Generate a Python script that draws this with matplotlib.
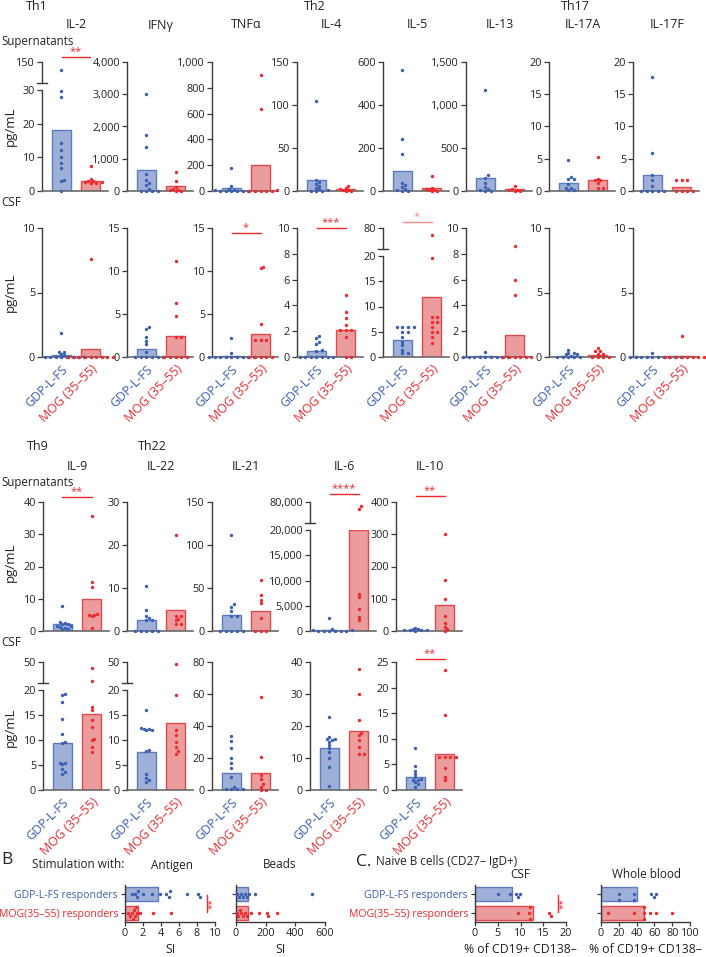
import matplotlib
matplotlib.use("Agg")
import matplotlib.pyplot as plt
from matplotlib.lines import Line2D
from matplotlib.ticker import FuncFormatter

plt.rcParams['font.family'] = ['Open Sans', 'DejaVu Sans']

W, H = 706, 957
fig = plt.figure(figsize=(W / 100, H / 100), dpi=100)

BFACE, BEDGE, BDOT = '#9eb0d8', '#5b7cc0', '#3a5fb3'
RFACE, REDGE, RDOT = '#eb9c9d', '#e5484b', '#ee2a2e'
AXC = '#3a3a3a'
groups = ['GDP-L-FS', 'MOG (35–55)']

# ---- data: top block (Th1 / Th2 / Th17) ----
top_names = ['IL-2', 'IFNγ', 'TNFα', 'IL-4', 'IL-5', 'IL-13', 'IL-17A', 'IL-17F']

il2_sup_b = [102, 29.8, 27.8, 14.3, 12.3, 10.1, 8.4, 6.7, 3.4, 3.0, 0]
il2_sup_r = [7.4, 3.6, 3.0, 2.7, 2.5, 2.4, 2.6, 2.9]
ifng_sup_b = [3018, 1726, 1364, 517, 351, 248, 176, 72, 0, 0, 0, 0]
ifng_sup_r = [589, 310, 124, 72, 41, 20, 0, 0]
tnfa_sup_b = [181, 36, 18, 10, 5, 2, 0, 0, 0, 0, 0]
tnfa_sup_r = [902, 633, 5, 2, 0, 0, 0, 0]
il4_sup_b = [105, 12.4, 10.5, 8.5, 5.8, 3.5, 2, 0.8, 0.5, 0, 0]
il4_sup_r = [5.4, 3.9, 1.9, 1.5, 1, 0.5, 0]
il5_sup_b = [561, 243, 174, 39, 26, 19, 11, 3, 0, 0]
il5_sup_r = [68, 16, 11, 6, 4, 2, 0]
il13_sup_b = [1178, 182, 155, 93, 47, 19, 8, 0, 0]
il13_sup_r = [54, 27, 16, 8, 4, 0]
il17a_sup_b = [4.86, 2.17, 1.8, 1.8, 1.14, 0.47, 0.47, 0.2, 0.2]
il17a_sup_r = [5.2, 1.8, 1.65, 1.65, 1.24, 0.52, 0.52]
il17f_sup_b = [17.6, 5.9, 2.43, 1.76, 0.78, 0, 0, 0, 0, 0]
il17f_sup_r = [1.65, 1.65, 1.65, 0, 0, 0, 0]
top_sup_bar_b = [18.1, 641, 23, 12.4, 91, 151, 1.24, 2.43]
top_sup_bar_r = [2.9, 155, 199, 2.7, 16, 23, 1.76, 0.62]

il2_csf_b = [1.87, 0.39, 0.35, 0.26, 0.13, 0, 0, 0, 0, 0, 0, 0, 0]
il2_csf_r = [7.6, 0, 0, 0, 0, 0, 0, 0, 0, 0]
ifng_csf_b = [3.5, 3.3, 2.3, 1.9, 1.5, 0.6, 0, 0, 0, 0, 0, 0]
ifng_csf_r = [11.2, 6.3, 4.8, 2.3, 2.3, 0, 0, 0, 0, 0]
tnfa_csf_b = [2.2, 0.47, 0, 0, 0, 0, 0, 0, 0, 0, 0]
tnfa_csf_r = [10.5, 10.3, 3.8, 1.95, 1.95, 1.95, 0, 0, 0, 0, 0]
il4_csf_b = [1.64, 1.5, 1.17, 0.99, 0.52, 0.5, 0, 0, 0, 0, 0, 0, 0]
il4_csf_r = [4.8, 3.45, 3.0, 2.47, 2.13, 2.13, 2.13, 1.56, 0, 0]
il5_csf_b = [6.0, 6.0, 6.0, 5.9, 5.0, 5.0, 4.0, 3.0, 2.3, 1.3, 0.7, 0.7]
il5_csf_r = [61, 19.7, 8, 8, 7, 7, 5.9, 5, 5, 4, 2.8]
il13_csf_b = [0.39, 0, 0, 0, 0, 0, 0, 0, 0, 0]
il13_csf_r = [8.57, 5.97, 4.8, 0, 0, 0, 0, 0, 0]
il17a_csf_b = [0.57, 0.34, 0.34, 0.2, 0.2, 0.1, 0, 0, 0, 0, 0]
il17a_csf_r = [0.73, 0.44, 0.44, 0.26, 0.26, 0, 0, 0, 0]
il17f_csf_b = [0.34, 0, 0, 0, 0, 0, 0, 0, 0, 0, 0]
il17f_csf_r = [1.64, 0, 0, 0, 0, 0, 0, 0, 0]
top_csf_bar_b = [0.18, 0.97, 0.15, 0.44, 3.3, 0.05, 0.08, 0.03]
top_csf_bar_r = [0.65, 2.4, 2.7, 2.13, 11.8, 1.74, 0.18, 0.05]

# ---- data: bottom block (Th9 / Th22 / others) ----
bot_names = ['IL-9', 'IL-22', 'IL-21', 'IL-6', 'IL-10']
il9_sup_b = [7.75, 2.8, 2.5, 2.1, 2.1, 1.45, 1.45, 1.2, 1.0, 0.7, 0.7]
il9_sup_r = [35.7, 15.2, 13.6, 5.4, 5.0, 4.9, 4.6, 1.0]
il22_sup_b = [10.5, 4.8, 3.4, 3.0, 2.5, 2.5, 0, 0, 0, 0, 0]
il22_sup_r = [22.4, 3.6, 3.6, 2.9, 2.5, 1.7, 1.7]
il21_sup_b = [112, 31, 28, 23, 18, 18, 0, 0, 0, 0, 0]
il21_sup_r = [59, 41.5, 36.4, 32.6, 15.5, 0, 0, 0]
il6_sup_b = [2650, 330, 130, 100, 0, 0, 0, 0, 0, 0]
il6_sup_r = [68000, 60000, 7400, 6750, 4440, 2780, 2120]
il10_sup_b = [10, 7, 7, 4, 4, 2, 2, 1]
il10_sup_r = [300, 159, 99, 45, 25, 12, 7, 0]
bot_sup_bar_b = [2.07, 2.5, 19, 200, 2]
bot_sup_bar_r = [10.0, 4.96, 22.9, 20000, 81]

il9_csf_b = [19.0, 19.2, 17.7, 14.3, 11.3, 9.7, 9.5, 5.5, 5.4, 5.2, 4.3, 3.7, 3.2]
il9_csf_r = [41.9, 22.9, 16.7, 16.0, 14.0, 12.7, 10.3, 10.0, 8.7, 7.7]
il22_csf_b = [16.1, 12.5, 12.3, 12.3, 12.1, 12.0, 8.0, 7.8, 3.3, 2.5, 2.0, 1.7]
il22_csf_r = [47, 19.0, 12.1, 11.0, 9.7, 8.7, 7.8, 7.3]
il21_csf_b = [33.7, 30.5, 26, 19.7, 16.6, 13.5, 7.9, 2.1, 0.4, 0.4, 0.4, 0.4]
il21_csf_r = [58.2, 20.8, 9.4, 6.7, 3.7, 2.1, 0, 0]
il6_csf_b = [22.9, 16.6, 16.0, 15.8, 15.5, 15.0, 14.0, 13.0, 12.0, 9.9, 7.1, 1.2]
il6_csf_r = [37.7, 29.9, 21.8, 17.9, 17.1, 15.6, 13.5, 11.2, 11.2]
il10_csf_b = [8.25, 4.7, 3.8, 3.2, 2.6, 2.1, 2.0, 1.9, 1.6, 1.2, 0.65]
il10_csf_r = [23.4, 14.6, 6.5, 6.4, 6.4, 6.4, 4.2, 2.6, 1.9]
bot_csf_bar_b = [9.4, 7.7, 10.8, 13, 2.5]
bot_csf_bar_r = [15.3, 13.5, 10.4, 18.5, 7.0]

# ---- data: panels B and C ----
resp_labels = ['GDP-L-FS responders', 'MOG(35–55) responders']
antigen_b = [0.74, 1.1, 1.37, 1.48, 2.0, 2.96, 3.9, 4.6, 4.9, 5.0, 6.9, 8.1, 8.3]
antigen_r = [0.37, 0.6, 0.8, 0.9, 1.0, 1.1, 1.2, 1.3, 1.67, 3.07, 5.1]
antigen_bar = [3.7, 1.48]
beads_b = [9, 22, 31, 45, 61, 76, 90, 128, 510]
beads_r = [5, 15, 25, 35, 45, 60, 72, 99, 157, 207, 218, 274]
beads_bar = [83, 83]
naive_csf_b = [5.1, 7.7, 9.0, 9.5, 9.9]
naive_csf_r = [9.5, 11.9, 12.1, 12.1, 16.3, 16.8]
naive_csf_bar = [8.06, 12.7]
naive_wb_b = [20.5, 20.5, 37.3, 37.3, 56, 59, 61.6]
naive_wb_r = [7.8, 36.6, 48.5, 48.5, 48.5, 55, 62, 79.5]
naive_wb_bar = [41, 48.5]


def px_axes(x, y, w, h):
    return fig.add_axes([x / W, 1 - (y + h) / H, w / W, h / H])


def ftxt(x, y, s, **kw):
    kw.setdefault('fontsize', 8.5)
    kw.setdefault('color', '#222222')
    fig.text(x / W, 1 - y / H, s, **kw)


def fline(x0, y0, x1, y1, color, lw=1.0):
    fig.add_artist(Line2D([x0 / W, x1 / W], [1 - y0 / H, 1 - y1 / H],
                          transform=fig.transFigure, color=color, lw=lw))


def beeswarm(vals, ppu, d=2.9, step=2.8):
    # pixel offsets across the value axis so that dots do not pile up
    order = sorted(range(len(vals)), key=lambda i: vals[i])
    placed = []
    offs = [0.0] * len(vals)
    cands = [0.0]
    for k in range(1, 14):
        cands += [k * step, -k * step]
    for i in order:
        v = vals[i] * ppu
        for c in cands:
            if all((c - px) ** 2 + (v - pv) ** 2 >= d * d for px, pv in placed):
                break
        placed.append((c, v))
        offs[i] = c
    return offs


fmt = FuncFormatter(lambda v, p: f"{v:,.0f}")
BW = 66
XPPU = 29.0  # pixels per category unit on the bar panels


def style_left(ax):
    ax.spines['top'].set_visible(False)
    ax.spines['right'].set_visible(False)
    ax.spines['left'].set_color(AXC)
    ax.spines['left'].set_linewidth(1.0)
    ax.tick_params(axis='y', length=3.5, width=0.9, color=AXC, labelsize=7.8,
                   labelcolor='#222222', pad=1.5)
    ax.patch.set_visible(False)


def put_dots(ax, pos, vals, color, lo, hi, hpx):
    if not vals:
        return
    ppu = hpx / (hi - lo)
    offs = beeswarm([v - lo for v in vals], ppu)
    ax.scatter([pos + o / XPPU for o in offs], vals, s=6, color=color, zorder=3,
               clip_on=False, linewidths=0)


def bar_panel(x0, row, blue, red, bb, rb, ymax, ticks, brk=None, xlab=False):
    ytop, ybot = row
    ltop = ytop + 28 if brk else ytop
    ax = px_axes(x0, ltop, BW, ybot - ltop)
    ax.set_xlim(-0.67, 1.6)
    ax.set_ylim(0, ymax)
    ax.bar([0, 1], [bb, rb], width=0.66, color=[BFACE, RFACE],
           edgecolor=[BEDGE, REDGE], lw=1.0, zorder=2)
    style_left(ax)
    ax.spines['bottom'].set_color('#6a6a6a')
    ax.spines['bottom'].set_linewidth(1.2)
    ax.set_yticks(ticks)
    ax.yaxis.set_major_formatter(fmt)
    for pos, vals, col in [(0, blue, BDOT), (1, red, RDOT)]:
        put_dots(ax, pos, [v for v in vals if v <= ymax], col, 0, ymax, ybot - ltop)
    if brk:
        axu = px_axes(x0, ytop, BW, 21)
        axu.set_xlim(-0.67, 1.6)
        axu.set_ylim(brk[0], brk[1])
        style_left(axu)
        axu.spines['bottom'].set_visible(False)
        axu.set_xticks([])
        axu.set_yticks([brk[1]])
        axu.yaxis.set_major_formatter(fmt)
        axu.plot([-0.07, 0.07], [0, 0], transform=axu.transAxes, color=AXC,
                 lw=1.0, clip_on=False)
        for pos, vals, col in [(0, blue, BDOT), (1, red, RDOT)]:
            put_dots(axu, pos, [v for v in vals if v > ymax], col, brk[0], brk[1], 21)
    if xlab:
        ax.set_xticks([0, 1])
        ax.set_xticklabels(groups, rotation=45, ha='right', va='top',
                           rotation_mode='anchor', fontsize=9)
        for t, c in zip(ax.get_xticklabels(), [BDOT, RDOT]):
            t.set_color(c)
        ax.tick_params(axis='x', length=0, pad=4)
    else:
        ax.set_xticks([])
    return ax


def sig(x0, y, stars, color=RDOT):
    fline(x0 + 19.5, y, x0 + 48.5, y, color)
    ftxt(x0 + 34, y - 5.5, stars, color=color, fontsize=8, ha='center', va='center')


# ---------------- top block ----------------
top_x = [42, 127, 212, 297, 383, 466, 549, 633]
row_sup, row_csf = (62, 191), (228, 357)

for i, name in enumerate(top_names):
    ftxt(top_x[i] + 34, 25, name, ha='center', va='center', fontsize=9)
ftxt(37, 6, 'Th1', ha='center', va='center', fontsize=9)
ftxt(315, 6, 'Th2', ha='center', va='center', fontsize=9)
ftxt(575, 6, 'Th17', ha='center', va='center', fontsize=9)
ftxt(1, 41, 'Supernatants', ha='left', va='center', fontsize=8.3)
ftxt(1, 203, 'CSF', ha='left', va='center', fontsize=8.5)
ftxt(10, 126, 'pg/mL', ha='center', va='center', rotation=90, fontsize=9.5)
ftxt(10, 292, 'pg/mL', ha='center', va='center', rotation=90, fontsize=9.5)

bar_panel(top_x[0], row_sup, il2_sup_b, il2_sup_r, top_sup_bar_b[0], top_sup_bar_r[0],
          30, [0, 10, 20, 30], brk=(30, 150))
bar_panel(top_x[1], row_sup, ifng_sup_b, ifng_sup_r, top_sup_bar_b[1], top_sup_bar_r[1],
          4000, [0, 1000, 2000, 3000, 4000])
bar_panel(top_x[2], row_sup, tnfa_sup_b, tnfa_sup_r, top_sup_bar_b[2], top_sup_bar_r[2],
          1000, [0, 200, 400, 600, 800, 1000])
bar_panel(top_x[3], row_sup, il4_sup_b, il4_sup_r, top_sup_bar_b[3], top_sup_bar_r[3],
          150, [0, 50, 100, 150])
bar_panel(top_x[4], row_sup, il5_sup_b, il5_sup_r, top_sup_bar_b[4], top_sup_bar_r[4],
          600, [0, 200, 400, 600])
bar_panel(top_x[5], row_sup, il13_sup_b, il13_sup_r, top_sup_bar_b[5], top_sup_bar_r[5],
          1500, [0, 500, 1000, 1500])
bar_panel(top_x[6], row_sup, il17a_sup_b, il17a_sup_r, top_sup_bar_b[6], top_sup_bar_r[6],
          20, [0, 5, 10, 15, 20])
bar_panel(top_x[7], row_sup, il17f_sup_b, il17f_sup_r, top_sup_bar_b[7], top_sup_bar_r[7],
          20, [0, 5, 10, 15, 20])

bar_panel(top_x[0], row_csf, il2_csf_b, il2_csf_r, top_csf_bar_b[0], top_csf_bar_r[0],
          10, [0, 5, 10], xlab=True)
bar_panel(top_x[1], row_csf, ifng_csf_b, ifng_csf_r, top_csf_bar_b[1], top_csf_bar_r[1],
          15, [0, 5, 10, 15], xlab=True)
bar_panel(top_x[2], row_csf, tnfa_csf_b, tnfa_csf_r, top_csf_bar_b[2], top_csf_bar_r[2],
          15, [0, 5, 10, 15], xlab=True)
bar_panel(top_x[3], row_csf, il4_csf_b, il4_csf_r, top_csf_bar_b[3], top_csf_bar_r[3],
          10, [0, 2, 4, 6, 8, 10], xlab=True)
bar_panel(top_x[4], row_csf, il5_csf_b, il5_csf_r, top_csf_bar_b[4], top_csf_bar_r[4],
          20, [0, 5, 10, 15, 20], brk=(20, 80), xlab=True)
bar_panel(top_x[5], row_csf, il13_csf_b, il13_csf_r, top_csf_bar_b[5], top_csf_bar_r[5],
          10, [0, 2, 4, 6, 8, 10], xlab=True)
bar_panel(top_x[6], row_csf, il17a_csf_b, il17a_csf_r, top_csf_bar_b[6], top_csf_bar_r[6],
          10, [0, 5, 10], xlab=True)
bar_panel(top_x[7], row_csf, il17f_csf_b, il17f_csf_r, top_csf_bar_b[7], top_csf_bar_r[7],
          10, [0, 5, 10], xlab=True)

sig(top_x[0], 57, '**')
sig(top_x[2], 233, '*')
sig(top_x[3], 228, '***')
sig(top_x[4], 222, '*', color='#f08a8c')

# ---------------- bottom block ----------------
bot_x = [43, 127, 212, 310, 396]
brow_sup, brow_csf = (502, 631), (662, 790)

for i, name in enumerate(bot_names):
    ftxt(bot_x[i] + 34, 467, name, ha='center', va='center', fontsize=9)
ftxt(38, 447, 'Th9', ha='center', va='center', fontsize=9)
ftxt(152, 447, 'Th22', ha='center', va='center', fontsize=9)
ftxt(1, 483, 'Supernatants', ha='left', va='center', fontsize=8.3)
ftxt(1, 643, 'CSF', ha='left', va='center', fontsize=8.5)
ftxt(10, 562, 'pg/mL', ha='center', va='center', rotation=90, fontsize=9.5)
ftxt(10, 727, 'pg/mL', ha='center', va='center', rotation=90, fontsize=9.5)

bar_panel(bot_x[0], brow_sup, il9_sup_b, il9_sup_r, bot_sup_bar_b[0], bot_sup_bar_r[0],
          40, [0, 10, 20, 30, 40])
bar_panel(bot_x[1], brow_sup, il22_sup_b, il22_sup_r, bot_sup_bar_b[1], bot_sup_bar_r[1],
          30, [0, 10, 20, 30])
bar_panel(bot_x[2], brow_sup, il21_sup_b, il21_sup_r, bot_sup_bar_b[2], bot_sup_bar_r[2],
          150, [0, 50, 100, 150])
bar_panel(bot_x[3], brow_sup, il6_sup_b, il6_sup_r, bot_sup_bar_b[3], bot_sup_bar_r[3],
          20000, [0, 5000, 10000, 15000, 20000], brk=(20000, 80000))
bar_panel(bot_x[4], brow_sup, il10_sup_b, il10_sup_r, bot_sup_bar_b[4], bot_sup_bar_r[4],
          400, [0, 100, 200, 300, 400])

bar_panel(bot_x[0], brow_csf, il9_csf_b, il9_csf_r, bot_csf_bar_b[0], bot_csf_bar_r[0],
          20, [0, 5, 10, 15, 20], brk=(20, 50), xlab=True)
bar_panel(bot_x[1], brow_csf, il22_csf_b, il22_csf_r, bot_csf_bar_b[1], bot_csf_bar_r[1],
          20, [0, 5, 10, 15, 20], brk=(20, 50), xlab=True)
bar_panel(bot_x[2], brow_csf, il21_csf_b, il21_csf_r, bot_csf_bar_b[2], bot_csf_bar_r[2],
          80, [0, 20, 40, 60, 80], xlab=True)
bar_panel(bot_x[3], brow_csf, il6_csf_b, il6_csf_r, bot_csf_bar_b[3], bot_csf_bar_r[3],
          40, [0, 10, 20, 30, 40], xlab=True)
bar_panel(bot_x[4], brow_csf, il10_csf_b, il10_csf_r, bot_csf_bar_b[4], bot_csf_bar_r[4],
          25, [0, 5, 10, 15, 20, 25], xlab=True)

sig(bot_x[0], 497, '**')
sig(bot_x[3], 494, '****')
sig(bot_x[4], 496, '**')
sig(bot_x[4], 659, '**')


# ---------------- panels B and C ----------------
def hpanel(x0, x1, xmax, xticks, blue, red, bars, xlabel, labels=False, sig_x=None):
    ax = px_axes(x0, 885, x1 - x0, 37)
    ax.set_xlim(0, xmax)
    ax.set_ylim(1.5, -0.5)
    ax.barh([0, 1], bars, height=0.75, color=[BFACE, RFACE],
            edgecolor=[BEDGE, REDGE], lw=1.0, zorder=2)
    ppu = (x1 - x0) / xmax
    for pos, vals, col in [(0, blue, BDOT), (1, red, RDOT)]:
        offs = beeswarm(vals, ppu, d=3.2, step=3.0)
        ax.scatter(vals, [pos + o / 18.5 for o in offs], s=6, color=col, zorder=3,
                   linewidths=0, clip_on=False)
    ax.spines['top'].set_visible(False)
    ax.spines['right'].set_visible(False)
    for s in ['left', 'bottom']:
        ax.spines[s].set_color(AXC)
        ax.spines[s].set_linewidth(1.0)
    ax.set_xticks(xticks)
    ax.tick_params(axis='x', length=3, width=0.9, color=AXC, labelsize=7.8,
                   labelcolor='#222222', pad=1.5)
    ax.tick_params(axis='y', length=3, width=0.9, color=AXC, labelsize=7.6, pad=2)
    ax.set_yticks([0, 1])
    if labels:
        ax.set_yticklabels(resp_labels)
        for t, c in zip(ax.get_yticklabels(), [BDOT, RDOT]):
            t.set_color(c)
    else:
        ax.set_yticklabels([])
    ax.set_xlabel(xlabel, fontsize=8.8, color='#222222', labelpad=3)
    ax.patch.set_visible(False)
    if sig_x is not None:
        ax.plot([sig_x, sig_x], [0.05, 0.95], color=RDOT, lw=1.0, clip_on=False)
        ax.text(sig_x + 0.055 * xmax, 0.5, '**', color=RDOT, fontsize=7,
                rotation=90, ha='center', va='center')
    return ax


ftxt(1, 860, 'B', ha='left', va='center', fontsize=12.5)
ftxt(32, 865, 'Stimulation with:', ha='left', va='center', fontsize=8.5)
ftxt(172, 865, 'Antigen', ha='center', va='center', fontsize=8.5)
ftxt(280, 865, 'Beads', ha='center', va='center', fontsize=8.5)
ftxt(356, 862, 'C.', ha='left', va='center', fontsize=12.5)
ftxt(376, 862, 'Naive B cells (CD27– IgD+)', ha='left', va='center', fontsize=8.5)
ftxt(520, 874, 'CSF', ha='center', va='center', fontsize=8.5)
ftxt(647, 874, 'Whole blood', ha='center', va='center', fontsize=8.5)

hpanel(125, 215, 10, [0, 2, 4, 6, 8, 10], antigen_b, antigen_r, antigen_bar, 'SI',
       labels=True, sig_x=9.15)
hpanel(236, 325, 600, [0, 200, 400, 600], beads_b, beads_r, beads_bar, 'SI')
hpanel(475, 566, 20, [0, 5, 10, 15, 20], naive_csf_b, naive_csf_r, naive_csf_bar,
       '% of CD19+ CD138–', labels=True, sig_x=18.3)
hpanel(601, 690, 100, [0, 20, 40, 60, 80, 100], naive_wb_b, naive_wb_r, naive_wb_bar,
       '% of CD19+ CD138–')

fig.savefig('out.png', dpi=100)
